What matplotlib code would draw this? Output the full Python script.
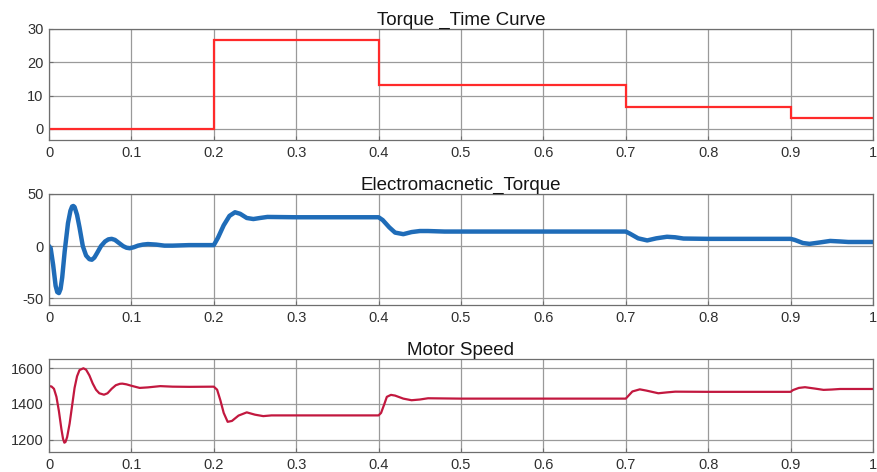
import matplotlib

matplotlib.use("Agg")
import matplotlib.pyplot as plt

plt.rcParams["font.family"] = ["Liberation Sans", "DejaVu Sans"]
plt.rcParams["axes.unicode_minus"] = False

# load torque steps (N.m)
load_edges = [0.0, 0.2, 0.4, 0.7, 0.9, 1.0]
load_levels = [0.0, 26.7, 13.3, 6.7, 3.3]

# electromagnetic torque, points
te_t = [0, 0.002, 0.005, 0.008, 0.010, 0.012, 0.014, 0.016, 0.019, 0.023, 0.026,
        0.028, 0.0295, 0.031, 0.034, 0.037, 0.041, 0.045, 0.049, 0.052, 0.055,
        0.058, 0.063, 0.068, 0.072, 0.076, 0.080, 0.085, 0.090, 0.094, 0.098,
        0.103, 0.108, 0.114, 0.12, 0.13, 0.14, 0.15, 0.17, 0.2,
        0.205, 0.212, 0.219, 0.2257, 0.232, 0.24, 0.248, 0.256, 0.265, 0.3, 0.4,
        0.405, 0.413, 0.42, 0.43, 0.44, 0.45, 0.46, 0.48, 0.7,
        0.705, 0.715, 0.726, 0.737, 0.75, 0.76, 0.77, 0.8, 0.9,
        0.905, 0.915, 0.923, 0.935, 0.948, 0.96, 0.97, 1.0]
te_val = [0, -2, -18, -38, -44, -45, -41, -30, -5, 22, 34,
          38, 38.5, 37.5, 30, 18, 0, -9, -12.5, -13, -11,
          -7, 0, 4.5, 6.5, 7, 6, 3, 0, -1.5, -2,
          -1, 0.5, 1.5, 2, 1.5, 0.5, 0.5, 1, 1,
          8, 20, 29, 32.5, 31, 27, 26, 27, 28, 27.7, 27.7,
          25, 18, 13, 11.5, 13.5, 14.5, 14.5, 14, 14,
          12, 7.5, 5.5, 7.5, 9, 8.5, 7.3, 7.0, 7.0,
          6, 3, 2.2, 3.5, 5, 4.5, 4, 4]

# rotor speed (rpm)
spd_t = [0, 0.003, 0.006, 0.009, 0.012, 0.015, 0.017, 0.0186, 0.020, 0.022, 0.025,
         0.028, 0.031, 0.034, 0.037, 0.0417, 0.045, 0.049, 0.053, 0.057, 0.061,
         0.0667, 0.071, 0.076, 0.081, 0.086, 0.089, 0.094, 0.100, 0.110, 0.120,
         0.135, 0.150, 0.170, 0.200,
         0.204, 0.208, 0.212, 0.2168, 0.222, 0.23, 0.24, 0.25, 0.26, 0.27, 0.3, 0.4,
         0.403, 0.407, 0.41, 0.415, 0.42, 0.43, 0.44, 0.45, 0.46, 0.5, 0.7,
         0.703, 0.708, 0.717, 0.725, 0.7395, 0.75, 0.76, 0.8, 0.9,
         0.903, 0.91, 0.9175, 0.93, 0.94, 0.95, 0.96, 1.0]
spd_val = [1500, 1498, 1485, 1440, 1360, 1260, 1205, 1183, 1187, 1215, 1290,
           1390, 1490, 1555, 1590, 1600, 1592, 1560, 1515, 1480, 1460,
           1452, 1460, 1485, 1505, 1513, 1514, 1510, 1502, 1490, 1493,
           1500, 1497, 1496, 1497,
           1480, 1420, 1350, 1300, 1305, 1335, 1353, 1340, 1332, 1336, 1336, 1336,
           1350, 1400, 1440, 1451, 1447, 1430, 1421, 1425, 1432, 1430, 1430,
           1445, 1470, 1482, 1475, 1460, 1465, 1469, 1468, 1468,
           1478, 1490, 1494, 1486, 1479, 1481, 1484, 1484]

x_ticks = [0, 0.1, 0.2, 0.3, 0.4, 0.5, 0.6, 0.7, 0.8, 0.9, 1]
x_labels = ["0", "0.1", "0.2", "0.3", "0.4", "0.5", "0.6", "0.7", "0.8", "0.9", "1"]


def style_axes(ax, title, ylim, yticks):
    ax.set_xlim(0, 1)
    ax.set_ylim(*ylim)
    ax.set_xticks(x_ticks)
    ax.set_xticklabels(x_labels)
    ax.set_yticks(yticks)
    ax.grid(True, color="#9a9a9a", linewidth=0.9)
    ax.set_axisbelow(True)
    for sp in ax.spines.values():
        sp.set_color("#6e6e6e")
        sp.set_linewidth(0.9)
    ax.tick_params(direction="in", length=3, colors="#6e6e6e",
                   labelcolor="#303030", labelsize=10.5, pad=4)
    ax.set_title(title, fontsize=13.5, color="#151515", pad=3)


fig = plt.figure(figsize=(8.77, 4.72), dpi=100)
ax1 = fig.add_axes([0.0559, 0.7034, 0.9395, 0.2352])
ax2 = fig.add_axes([0.0559, 0.3538, 0.9395, 0.2352])
ax3 = fig.add_axes([0.0559, 0.0424, 0.9395, 0.1970])

ax1.stairs(load_levels, load_edges, color="#ff2a2a", linewidth=1.6, baseline=None)
style_axes(ax1, "Torque _Time Curve", (-3.3, 30), [0, 10, 20, 30])

ax2.plot(te_t, te_val, color="#1f6cb8", linewidth=3.2, solid_joinstyle="round")
style_axes(ax2, "Electromacnetic_Torque", (-56.4, 50), [-50, 0, 50])

ax3.plot(spd_t, spd_val, color="#c2183f", linewidth=1.6)
style_axes(ax3, "Motor Speed", (1131, 1652), [1200, 1400, 1600])

fig.savefig("out.png", dpi=100)
